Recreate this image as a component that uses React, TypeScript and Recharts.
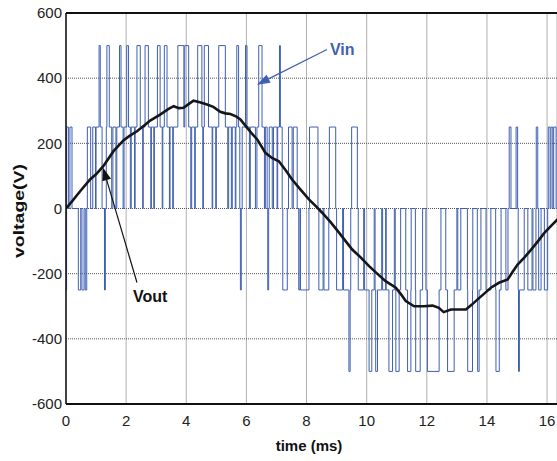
import React from 'react';
import { LineChart, Line, XAxis, YAxis, CartesianGrid, ReferenceLine } from 'recharts';

// inverter input: switching instants [time ms, level V], stepAfter
const vinPositiveHalf: [number, number][] = [
  [0.0, -250], [0.02, 250], [0.08, 0], [0.13, 250], [0.2, 0], [0.41, -250], [0.49, 0], [0.53, -250],
  [0.6, 0], [0.64, -250], [0.69, 0], [0.71, 250], [0.82, 0], [0.89, 250], [0.98, 0], [1.0, 250],
  [1.1, 500], [1.14, 250], [1.2, 0], [1.28, -250], [1.31, 0], [1.34, 250], [1.36, 500], [1.44, 250],
  [1.52, 0], [1.56, 250], [1.66, 0], [1.69, 250], [1.78, 500], [1.83, 250], [1.9, 0], [1.93, 250],
  [2.02, 500], [2.08, 250], [2.14, 0], [2.17, 250], [2.28, 0], [2.3, 250], [2.36, 500], [2.47, 250],
  [2.55, 0], [2.57, 250], [2.63, 500], [2.74, 250], [2.82, 0], [2.84, 250], [2.92, 0], [2.94, 250],
  [3.04, 500], [3.13, 250], [3.2, 0], [3.22, 250], [3.27, 500], [3.36, 250], [3.44, 0], [3.46, 250],
  [3.55, 0], [3.57, 250], [3.72, 500], [3.92, 250], [3.95, 500], [4.08, 250], [4.15, 0], [4.18, 250],
  [4.28, 0], [4.3, 250], [4.38, 500], [4.52, 250], [4.55, 0], [4.57, 250], [4.6, 500], [4.74, 250],
  [4.86, 0], [4.88, 250], [4.98, 0], [5.0, 250], [5.08, 500], [5.3, 250], [5.38, 0], [5.41, 250],
  [5.5, 0], [5.53, 250], [5.63, 0], [5.65, 250], [5.68, 500], [5.74, 250], [5.78, 0], [5.8, -250],
  [5.83, 0], [5.86, 250], [5.97, 500], [6.02, 250], [6.1, 0], [6.13, 250], [6.3, 0], [6.35, 250],
  [6.41, 500], [6.52, 250], [6.6, 0], [6.63, 250], [6.69, 0], [6.71, -250], [6.74, 0], [6.76, 250],
  [6.86, 0], [6.9, 250], [7.02, 0], [7.04, 250], [7.1, 500], [7.13, 250], [7.19, 0], [7.21, -250],
  [7.36, 0], [7.4, 250], [7.52, 0], [7.56, 250], [7.69, 0], [7.74, -250], [7.78, 0], [7.8, -250],
  [8.08, 0], [8.1, 250], [8.38, 0],
];

const vinNegativeHalf: [number, number][] = [
  [8.41, -250], [8.55, 0], [8.58, -250], [8.74, 0], [8.76, 250], [8.97, 0], [9.0, -250], [9.2, 0],
  [9.23, -250], [9.41, -500], [9.45, -250], [9.47, 0], [9.5, 250], [9.69, 0], [9.72, -250], [9.9, 0],
  [9.93, -250], [10.08, -500], [10.17, -250], [10.25, 0], [10.28, -250], [10.3, -500], [10.36, -250], [10.5, 0],
  [10.53, -250], [10.63, 0], [10.65, -250], [10.74, -500], [10.86, -250], [10.92, 0], [10.95, -250], [10.97, -500],
  [11.08, -250], [11.13, 0], [11.3, -250], [11.36, -500], [11.47, -250], [11.48, 0], [11.62, -250], [11.63, -500],
  [11.78, -250], [11.86, 0], [11.97, -250], [12.02, -500], [12.41, -250], [12.47, 0], [12.63, -250], [12.69, -500],
  [12.91, -250], [13.0, 0], [13.03, -250], [13.13, 0], [13.35, -250], [13.36, -500], [13.52, -250], [13.53, 0],
  [13.68, -250], [13.69, -500], [13.74, -250], [13.8, 0], [13.97, -250], [14.13, 0], [14.29, -250], [14.3, -500],
  [14.41, -250], [14.47, 0], [14.63, -250], [14.7, 0], [14.74, 250], [14.8, 0], [14.97, 250], [15.02, 0],
  [15.04, -250], [15.05, -500], [15.08, -250], [15.24, 0], [15.36, -250], [15.5, 0], [15.53, -250], [15.63, 0],
  [15.64, 250], [15.69, 0], [15.72, -250], [15.8, 0], [15.91, -250], [16.02, 0], [16.04, 250], [16.1, 0],
  [16.13, 250], [16.19, 0], [16.22, 250], [16.3, 0], [16.4, 0],
];

// filtered output voltage [time ms, V]
const voutPoints: [number, number][] = [
  [0, 0], [0.2, 22], [0.47, 53], [0.8, 89], [1.0, 105], [1.24, 130], [1.58, 176], [1.91, 209],
  [2.1, 222], [2.36, 237], [2.6, 255], [2.8, 270], [3.13, 288], [3.4, 305], [3.58, 314], [3.75, 308],
  [3.91, 309], [4.1, 322], [4.24, 331], [4.45, 326], [4.69, 319], [4.9, 312], [5.13, 297], [5.3, 292],
  [5.47, 290], [5.65, 283], [5.8, 273], [6.02, 248], [6.2, 228], [6.36, 212], [6.63, 171], [6.85, 155],
  [7.08, 145], [7.3, 118], [7.52, 89], [7.8, 58], [8.08, 28], [8.3, 8], [8.52, -13], [8.8, -42],
  [9.08, -74], [9.3, -100], [9.52, -126], [9.8, -150], [10.08, -177], [10.35, -200], [10.63, -223], [10.97, -243],
  [11.13, -262], [11.3, -284], [11.58, -300], [11.9, -300], [12.19, -298], [12.4, -305], [12.56, -318], [12.8, -310],
  [13.0, -310], [13.3, -310], [13.5, -295], [13.69, -279], [13.9, -262], [14.13, -243], [14.4, -228], [14.69, -218],
  [14.85, -195], [15.02, -172], [15.25, -150], [15.47, -126], [15.7, -100], [15.91, -75], [16.15, -52], [16.4, -28],
];

const xTicks = [0, 2, 4, 6, 8, 10, 12, 14, 16];
const yTicks = [-600, -400, -200, 0, 200, 400, 600];

const vinData = [...vinPositiveHalf, ...vinNegativeHalf].map(([t, v]) => ({ t, v }));
const voutData = voutPoints.map(([t, v]) => ({ t, v }));

const FONT = '"Liberation Sans", Arial, Helvetica, sans-serif';
const VIN_BLUE = '#3f5fb2';

const makeArrow = (color: string, text: string, tx: number, ty: number) => (props: any) => {
  const { x1, y1, x2, y2 } = props;
  const ang = Math.atan2(y2 - y1, x2 - x1);
  const len = 13;
  const half = 4.5;
  const bx = x2 - len * Math.cos(ang);
  const by = y2 - len * Math.sin(ang);
  const px = Math.sin(ang) * half;
  const py = -Math.cos(ang) * half;
  return (
    <g>
      <line x1={x1} y1={y1} x2={bx} y2={by} stroke={color} strokeWidth={1.2} />
      <polygon points={`${x2},${y2} ${bx + px},${by + py} ${bx - px},${by - py}`} fill={color} />
      <text x={x1 + tx} y={y1 + ty} fill={color} fontFamily={FONT} fontWeight="bold" fontSize={16}>
        {text}
      </text>
    </g>
  );
};

const YLabel = () => (
  <text
    x={24}
    y={211}
    transform="rotate(-90, 24, 211)"
    textAnchor="middle"
    fontFamily={FONT}
    fontWeight="bold"
    fontSize={15}
    textLength={94}
    lengthAdjust="spacingAndGlyphs"
    fill="#111"
  >
    voltage(V)
  </text>
);

const XLabel = () => (
  <text x={309} y={451} textAnchor="middle" fontFamily={FONT} fontWeight="bold" fontSize={15} fill="#111">
    time (ms)
  </text>
);

export default function App() {
  return (
    <div style={{ position: 'absolute', left: 0, top: 0, background: '#fff' }}>
      <LineChart width={557} height={461} margin={{ top: 13, right: 0, bottom: 0, left: 0 }}>
        <CartesianGrid horizontal={false} stroke="#b0b0b0" strokeWidth={1} />
        <CartesianGrid vertical={false} stroke="#555" strokeDasharray="1 1" strokeWidth={1} />
        <XAxis
          type="number"
          dataKey="t"
          domain={[0, 16.33]}
          ticks={xTicks}
          allowDataOverflow
          height={57}
          tickLine={false}
          tickSize={6}
          tickMargin={5}
          axisLine={{ stroke: '#111', strokeWidth: 2 }}
          tick={{ fill: '#222', fontSize: 15, fontFamily: FONT }}
          label={<XLabel />}
        />
        <YAxis
          type="number"
          domain={[-600, 600]}
          ticks={yTicks}
          allowDataOverflow
          width={66}
          tickLine={false}
          tickSize={4}
          tickMargin={0}
          axisLine={{ stroke: '#111', strokeWidth: 1.5 }}
          tick={{ fill: '#222', fontSize: 15, fontFamily: FONT }}
          label={<YLabel />}
        />
        <ReferenceLine y={600} stroke="#111" strokeWidth={2} />
        <Line
          data={vinData}
          dataKey="v"
          type="stepAfter"
          stroke={VIN_BLUE}
          strokeWidth={1}
          dot={false}
          isAnimationActive={false}
        />
        <Line
          data={voutData}
          dataKey="v"
          type="linear"
          stroke="#161616"
          strokeWidth={2.6}
          dot={false}
          isAnimationActive={false}
        />
        <ReferenceLine
          segment={[{ x: 8.68, y: 488 }, { x: 6.35, y: 380 }]}
          shape={makeArrow(VIN_BLUE, 'Vin', 3, 6)}
        />
        <ReferenceLine
          segment={[{ x: 2.36, y: -227 }, { x: 1.23, y: 126 }]}
          shape={makeArrow('#111', 'Vout', -4, 20)}
        />
      </LineChart>
    </div>
  );
}
